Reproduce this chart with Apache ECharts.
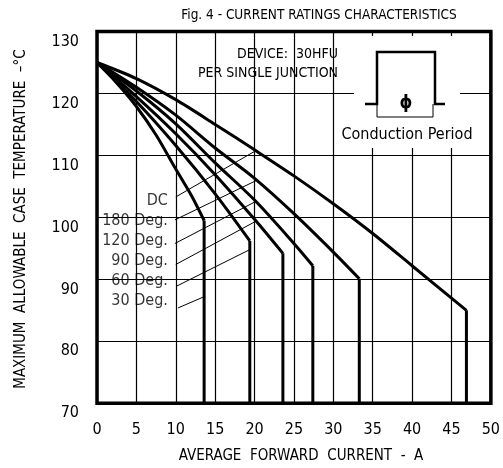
<!DOCTYPE html>
<html>
<head>
<meta charset="utf-8">
<script src="https://cdn.jsdelivr.net/npm/echarts@6/dist/echarts.min.js"></script>
<style>
html,body{margin:0;padding:0;background:#fff;}
#chart{width:503px;height:468px;}
</style>
</head>
<body>
<div id="chart"></div>
<script>
// ---- data (current A, case temperature °C) ----
const xTicks = [0, 5, 10, 15, 20, 25, 30, 35, 40, 45, 50];
const yTicks = [70, 80, 90, 100, 110, 120, 130];

const curveDC  = [[0,125],[5,122.4],[10,119.0],[15,115.0],[20,110.9],[25,106.7],[30,102.2],[35,97.4],[40,92.2],[46.9,85.0],[46.9,70]];
const curve180 = [[0,125],[5,121.0],[10,116.5],[15,111.2],[20,106.3],[25,100.6],[30,94.4],[33.3,90.1],[33.3,70]];
const curve120 = [[0,125],[5,120.4],[10,115.1],[15,108.8],[20,102.8],[25,95.8],[27.4,92.2],[27.4,70]];
const curve90  = [[0,125],[5,119.5],[10,113.5],[15,106.9],[20,99.7],[23.6,94.2],[23.6,70]];
const curve60  = [[0,125],[5,118.7],[10,111.6],[15,103.8],[19.4,96.2],[19.4,70]];
const curve30  = [[0,125],[2.5,121.7],[5,117.9],[7.5,113.3],[10,107.8],[12,103.5],[13.6,99.5],[13.6,70]];

const curveNames = ['DC', '180 Deg.', '120 Deg.', '90 Deg.', '60 Deg.', '30 Deg.'];
const labelPos   = [[9.0,102.6],[9.0,99.4],[9.0,96.2],[9.0,93.0],[9.0,89.8],[9.0,86.6]];
const leaderStart = [[10.0,103.3],[9.9,99.6],[9.9,95.8],[10.0,92.4],[10.1,88.9],[10.3,85.4]];
const leaderEnd   = [[20.2,110.8],[20.3,106.0],[20.2,102.6],[20.2,99.4],[19.4,94.8],[13.6,87.2]];

const FONT = '"Liberation Sans Narrow", "DejaVu Sans Condensed", "Noto Sans", sans-serif';

const chart = echarts.init(document.getElementById('chart'), null, {renderer:'canvas'});

const curves = [curveDC, curve180, curve120, curve90, curve60, curve30];
const series = [];
curves.forEach((c, i) => {
  const n = c.length;
  // sloped (smooth) part up to the knee
  series.push({
    name: curveNames[i], type: 'line', data: c.slice(0, n - 1), smooth: 0.3,
    symbol: 'none', silent: true, z: 3,
    lineStyle: {color: '#000', width: 3, join: 'round'}
  });
  // vertical drop from the knee
  series.push({
    type: 'line', data: c.slice(n - 2), symbol: 'none', silent: true, z: 3,
    lineStyle: {color: '#000', width: 3}
  });
  series.push({
    type: 'line', data: [leaderStart[i], leaderEnd[i]], symbol: 'none', silent: true, z: 3,
    lineStyle: {color: '#000', width: 1}
  });
});
series.push({
  type: 'scatter', symbolSize: 0, silent: true, z: 4,
  data: labelPos.map((p, i) => [p[0], p[1], curveNames[i]]),
  label: {
    show: true, position: 'left', distance: 0,
    formatter: p => p.value[2],
    fontFamily: FONT, fontSize: 16, color: '#000'
  }
});

chart.setOption({
  animation: false,
  backgroundColor: '#fff',
  grid: {left: 97, right: 11, top: 31.5, bottom: 64.7, show: true,
         borderColor: '#000', borderWidth: 3.5, backgroundColor: 'transparent'},
  xAxis: {
    type: 'value', min: xTicks[0], max: xTicks[xTicks.length-1], interval: 5,
    axisLine: {show: false}, axisTick: {show: false},
    splitLine: {show: true, lineStyle: {color: '#000', width: 1.2}},
    axisLabel: {margin: 19, fontFamily: FONT, fontSize: 16, color: '#000'}
  },
  yAxis: {
    type: 'value', min: yTicks[0], max: yTicks[yTicks.length-1], interval: 10,
    axisLine: {show: false}, axisTick: {show: false},
    splitLine: {show: true, lineStyle: {color: '#000', width: 1.2}},
    axisLabel: {margin: 18, verticalAlign: 'top', padding: [2,0,0,0], fontFamily: FONT, fontSize: 16, color: '#000'}
  },
  graphic: [
    {type: 'rect', z: 1, shape: {x: 354, y: 36, width: 106, height: 112}, style: {fill: '#fff'}},
    {type: 'polyline', z: 5, shape: {points: [[365,104],[377,104],[377,52],[435,52],[435,104],[445,104]]},
      style: {stroke: '#000', lineWidth: 2.5, fill: null}},
    {type: 'polyline', z: 5, shape: {points: [[377,104],[377,117],[433,117],[433,104]]},
      style: {stroke: '#000', lineWidth: 1, fill: null}},
    {type: 'text', z: 5, x: 406, y: 103, style: {text: 'ϕ', font: 'bold 18px ' + FONT, fill: '#000', align: 'center', verticalAlign: 'middle'}},
    {type: 'text', z: 5, x: 407, y: 135, style: {text: 'Conduction Period', font: '16px ' + FONT, fill: '#000', align: 'center', verticalAlign: 'middle'}},
    {type: 'text', z: 5, x: 338, y: 54, style: {text: 'DEVICE:  30HFU', font: '14px ' + FONT, fill: '#000', align: 'right', verticalAlign: 'middle'}},
    {type: 'text', z: 5, x: 338, y: 73.5, style: {text: 'PER SINGLE JUNCTION', font: '14px ' + FONT, fill: '#000', align: 'right', verticalAlign: 'middle'}},
    {type: 'text', z: 5, x: 319, y: 15, style: {text: 'Fig. 4 - CURRENT RATINGS CHARACTERISTICS', font: '13.5px ' + FONT, fill: '#000', align: 'center', verticalAlign: 'middle'}},
    {type: 'text', z: 5, x: 301, y: 456, style: {text: 'AVERAGE  FORWARD  CURRENT  -  A', font: '15px ' + FONT, fill: '#000', align: 'center', verticalAlign: 'middle'}},
    {type: 'text', z: 5, x: 21.5, y: 219, rotation: Math.PI/2, style: {text: 'MAXIMUM  ALLOWABLE  CASE  TEMPERATURE  –°C', font: '15px ' + FONT, fill: '#000', align: 'center', verticalAlign: 'middle'}}
  ],
  series: series
});
</script>
</body>
</html>
